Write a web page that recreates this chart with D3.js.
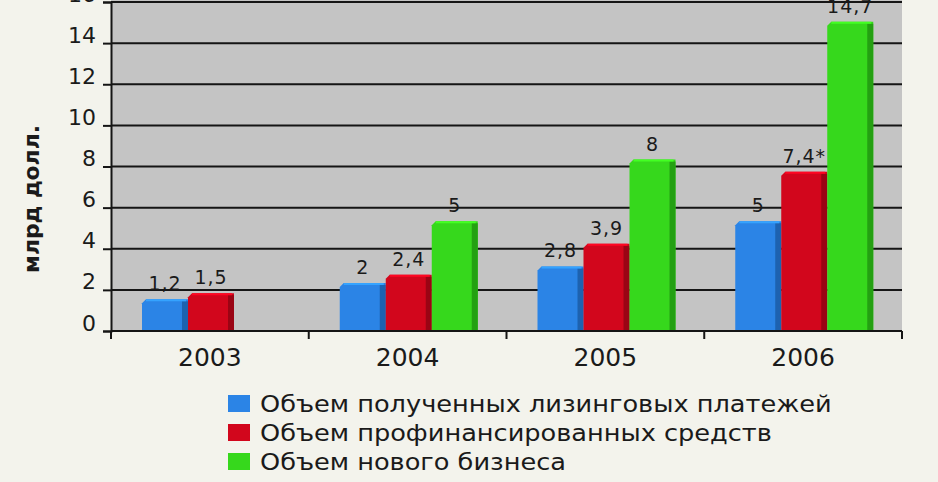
<!DOCTYPE html>
<html>
<head>
<meta charset="utf-8">
<script src="https://cdn.jsdelivr.net/npm/d3@7"></script>
<style>
  html, body { margin: 0; padding: 0; background: #f3f3ec; }
  svg { display: block; }
  text { font-family: "DejaVu Sans", sans-serif; fill: #1a1a1a; }
</style>
</head>
<body>
<script>
// chart data
var years = ["2003", "2004", "2005", "2006"];
var seriesNames = [
    "Объем полученных лизинговых платежей",
    "Объем профинансированных средств",
    "Объем нового бизнеса"
];
var payments = [1.2, 2, 2.8, 5];
var financed = [1.5, 2.4, 3.9, 7.4];
var newBusiness = [null, 5, 8, 14.7];
var valueLabels = [
    ["1,2", "2", "2,8", "5"],
    ["1,5", "2,4", "3,9", "7,4*"],
    ["", "5", "8", "14,7"]
];
var yTicks = [0, 2, 4, 6, 8, 10, 12, 14, 16];
var colors = ["#2b84e6", "#d2061c", "#36d81c"];
var sideColors = ["#1d62b0", "#9a0414", "#24a012"];

function drawChart() {
    var W = 938, H = 482;
    var plotLeft = 111, plotRight = 902, plotTop = 2, plotBottom = 331;
    var depth = 7;

    var svg = d3.select("body").append("svg")
        .attr("width", W)
        .attr("height", H);

    var x = d3.scaleBand()
        .domain(years)
        .range([plotLeft, plotRight])
        .padding(0);

    var y = d3.scaleLinear()
        .domain([0, 16])
        .range([plotBottom, plotTop]);

    var inner = d3.scaleBand()
        .domain([0, 1, 2])
        .range([31, 31 + 138]);

    // plot background
    svg.append("rect")
        .attr("x", plotLeft)
        .attr("y", 0)
        .attr("width", plotRight - plotLeft)
        .attr("height", plotBottom)
        .attr("fill", "#c4c4c4");

    // gridlines
    svg.append("g")
        .selectAll("line")
        .data(yTicks.filter(function (d) { return d > 0; }))
        .join("line")
        .attr("x1", plotLeft)
        .attr("x2", plotRight)
        .attr("y1", function (d) { return y(d); })
        .attr("y2", function (d) { return y(d); })
        .attr("stroke", "#151515")
        .attr("stroke-width", 2);

    // y axis
    var yAxis = svg.append("g")
        .attr("transform", "translate(" + plotLeft + ",0)")
        .call(d3.axisLeft(y).tickValues(yTicks).tickSize(8).tickPadding(7));
    yAxis.select(".domain").attr("stroke", "#151515").attr("stroke-width", 2);
    yAxis.selectAll(".tick line").attr("stroke", "#151515").attr("stroke-width", 2);
    yAxis.selectAll(".tick text")
        .attr("dy", "-1")
        .style("font-size", "22px")
        .style("font-family", "DejaVu Sans, sans-serif")
        .attr("fill", "#1a1a1a");

    // bars
    var series = [payments, financed, newBusiness];
    var bw = inner.bandwidth();

    series.forEach(function (vals, s) {
        var g = svg.append("g");
        years.forEach(function (yr, i) {
            var v = vals[i];
            if (v == null) return;
            var x0 = x(yr) + inner(s);
            var yt = y(v) - depth;
            var b = 4;
            // front face, top-left corner bevelled
            g.append("path")
                .attr("d", "M" + x0 + "," + plotBottom +
                    " L" + x0 + "," + (yt + b) +
                    " L" + (x0 + b) + "," + yt +
                    " L" + (x0 + bw) + "," + yt +
                    " L" + (x0 + bw) + "," + plotBottom + " Z")
                .attr("fill", colors[s]);
            // side face
            g.append("rect")
                .attr("x", x0 + bw - 6)
                .attr("y", yt + 2)
                .attr("width", 6)
                .attr("height", plotBottom - yt - 2)
                .attr("fill", sideColors[s]);
            // top highlight
            g.append("line")
                .attr("x1", x0 + b)
                .attr("x2", x0 + bw - 2)
                .attr("y1", yt + 1)
                .attr("y2", yt + 1)
                .attr("stroke", d3.color(colors[s]).brighter(0.6))
                .attr("stroke-width", 2);
            // value label
            svg.append("text")
                .attr("x", x0 + bw / 2)
                .attr("y", yt - 9)
                .attr("text-anchor", "middle")
                .style("font-size", "19px")
                .style("letter-spacing", "1px")
                .text(valueLabels[s][i]);
        });
    });

    // x axis
    svg.append("line")
        .attr("x1", plotLeft)
        .attr("x2", plotRight)
        .attr("y1", plotBottom)
        .attr("y2", plotBottom)
        .attr("stroke", "#151515")
        .attr("stroke-width", 2);

    var bounds = years.map(function (d) { return x(d); }).concat([plotRight]);
    svg.append("g")
        .selectAll("line")
        .data(bounds)
        .join("line")
        .attr("x1", function (d) { return d; })
        .attr("x2", function (d) { return d; })
        .attr("y1", plotBottom)
        .attr("y2", plotBottom + 8)
        .attr("stroke", "#151515")
        .attr("stroke-width", 2);

    svg.append("g")
        .selectAll("text")
        .data(years)
        .join("text")
        .attr("x", function (d) { return x(d) + x.bandwidth() / 2; })
        .attr("y", 366)
        .attr("text-anchor", "middle")
        .style("font-size", "25px")
        .text(function (d) { return d; });

    // y axis title
    svg.append("text")
        .attr("transform", "translate(39,199) rotate(-90)")
        .attr("text-anchor", "middle")
        .style("font-size", "21px")
        .style("font-weight", "bold")
        .attr("textLength", 148)
        .attr("lengthAdjust", "spacingAndGlyphs")
        .text("млрд долл.");

    // legend
    var legend = svg.append("g");
    seriesNames.forEach(function (name, i) {
        var ly = 395 + i * 29;
        legend.append("rect")
            .attr("x", 228)
            .attr("y", ly)
            .attr("width", 22)
            .attr("height", 17)
            .attr("fill", colors[i]);
        legend.append("text")
            .attr("class", "legend-text")
            .attr("x", 260)
            .attr("y", ly + 17)
            .style("font-size", "23px")
            .text(name);
    });

    // stretch the legend text a little, the original lettering is wide
    var first = legend.select(".legend-text").node();
    var k = 572 / first.getComputedTextLength();
    legend.selectAll(".legend-text")
        .attr("transform", "translate(260,0) scale(" + k + ",1) translate(-260,0)");
}

drawChart();
</script>
</body>
</html>
